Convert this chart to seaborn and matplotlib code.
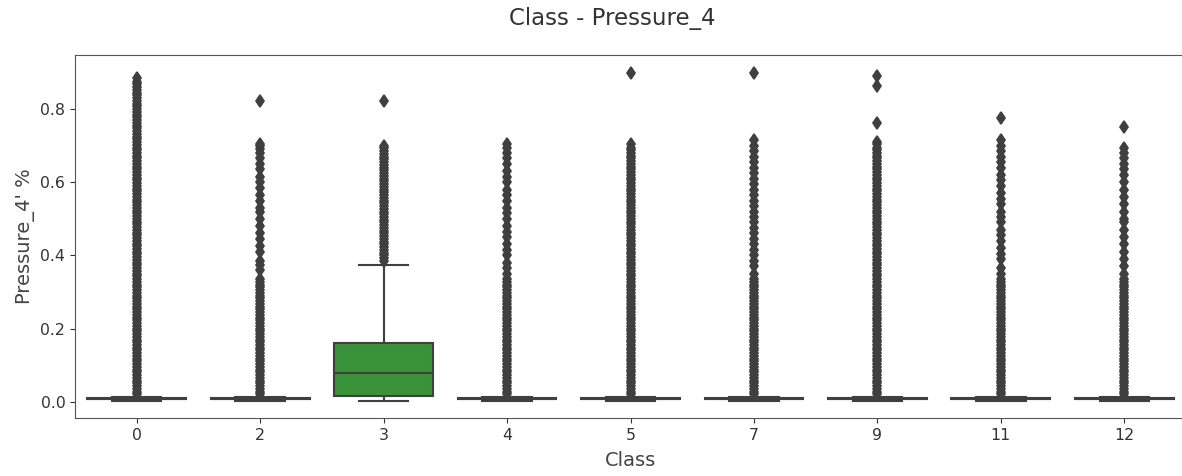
import numpy as np
import pandas as pd
import matplotlib
matplotlib.use("Agg")
import matplotlib.pyplot as plt
import seaborn as sns

classes = ["0", "2", "3", "4", "5", "7", "9", "11", "12"]

# bulk of the distribution (value, count)
flat_values = [0.002, 0.006, 0.0075, 0.009, 0.013]
flat_counts = [40, 160, 200, 160, 40]
class3_values = [0.003, 0.015, 0.079, 0.161, 0.375]
class3_counts = [20, 80, 100, 80, 20]

# outlier columns (dense stretches look solid in the picture)
dense_low = [0.02, 0.0275, 0.035, 0.0425, 0.05, 0.0575, 0.065, 0.0725, 0.08, 0.0875,
             0.095, 0.1025, 0.11, 0.1175, 0.125, 0.1325, 0.14, 0.1475, 0.155, 0.1625,
             0.17, 0.1775, 0.185, 0.1925, 0.2, 0.2075, 0.215, 0.2225, 0.23, 0.2375,
             0.245, 0.2525, 0.26, 0.2675, 0.275, 0.2825, 0.29, 0.2975, 0.305, 0.3125,
             0.32, 0.3275, 0.335]
dense_mid = [0.3425, 0.35, 0.3575, 0.365, 0.3725, 0.38, 0.3875, 0.395, 0.4025, 0.41,
             0.4175, 0.425, 0.4325, 0.44, 0.4475, 0.455, 0.4625, 0.47, 0.4775, 0.485,
             0.4925, 0.5, 0.5075, 0.515, 0.5225, 0.53, 0.5375, 0.545, 0.5525, 0.56,
             0.5675, 0.575, 0.5825, 0.59, 0.5975, 0.605, 0.6125, 0.62, 0.6275, 0.635,
             0.6425, 0.65, 0.6575, 0.665, 0.6725, 0.68, 0.6875, 0.695]
dense_top = [0.7025, 0.71, 0.7175, 0.725, 0.7325, 0.74, 0.7475, 0.755, 0.7625, 0.77,
             0.7775, 0.785, 0.7925, 0.8, 0.8075, 0.815, 0.8225, 0.83, 0.8375, 0.845,
             0.8525, 0.86, 0.8675, 0.875, 0.885]
class3_dense = [0.385, 0.3925, 0.4, 0.4075, 0.415, 0.4225, 0.43, 0.4375, 0.445, 0.4525,
                0.46, 0.4675, 0.475, 0.4825, 0.49, 0.4975, 0.505, 0.5125, 0.52, 0.5275,
                0.535, 0.5425, 0.55, 0.5575, 0.565, 0.5725, 0.58, 0.5875, 0.595, 0.6025,
                0.61, 0.6175, 0.625, 0.6325, 0.64, 0.6475, 0.655, 0.6625, 0.67, 0.6775,
                0.685, 0.6925, 0.7]

out_0 = dense_low + dense_mid + dense_top
out_2 = dense_low + [0.36, 0.375, 0.385, 0.41, 0.425, 0.445, 0.46, 0.48, 0.5, 0.52, 0.53, 0.55,
                     0.565, 0.585, 0.6, 0.615, 0.635, 0.65, 0.665, 0.68, 0.69, 0.7, 0.705, 0.822]
out_3 = class3_dense + [0.822]
out_4 = dense_low + [0.35, 0.365, 0.38, 0.4, 0.415, 0.43, 0.45, 0.465, 0.48, 0.5, 0.515, 0.53,
                     0.55, 0.565, 0.58, 0.6, 0.615, 0.63, 0.65, 0.665, 0.68, 0.695, 0.705]
out_5 = dense_low + dense_mid + [0.705, 0.9]
out_7 = dense_low + [0.35, 0.37, 0.385, 0.4, 0.415, 0.43, 0.445, 0.46, 0.475, 0.49, 0.505, 0.52,
                     0.535, 0.55, 0.565, 0.58, 0.595, 0.61, 0.625, 0.64, 0.655, 0.67, 0.685,
                     0.7, 0.715, 0.9]
out_9 = dense_low + dense_mid + [0.705, 0.71, 0.762, 0.862, 0.89]
out_11 = dense_low + [0.35, 0.365, 0.39, 0.405, 0.42, 0.44, 0.455, 0.47, 0.49, 0.505, 0.52, 0.54,
                      0.555, 0.57, 0.59, 0.605, 0.62, 0.64, 0.655, 0.67, 0.685, 0.7, 0.715, 0.777]
out_12 = dense_low + [0.35, 0.37, 0.39, 0.41, 0.43, 0.45, 0.47, 0.49, 0.5, 0.52, 0.54, 0.56,
                      0.58, 0.6, 0.62, 0.635, 0.65, 0.665, 0.68, 0.695, 0.751]

outliers = {"0": out_0, "2": out_2, "3": out_3, "4": out_4, "5": out_5,
            "7": out_7, "9": out_9, "11": out_11, "12": out_12}

rows = []
for cls in classes:
    if cls == "3":
        vals = np.repeat(class3_values, class3_counts)
    else:
        vals = np.repeat(flat_values, flat_counts)
    for v in list(vals) + outliers[cls]:
        rows.append({"Class": cls, "Pressure_4": v})
df = pd.DataFrame(rows)

colors = ["#1f77b4", "#ff7f0e", "#2ca02c", "#d62728", "#9467bd",
          "#8c564b", "#e377c2", "#7f7f7f", "#bcbd22"]

fig = plt.figure(figsize=(11.82, 4.76), dpi=100)
ax = fig.add_axes([75 / 1182, 1 - 418 / 476, 1111 / 1182, 363 / 476])

sns.boxplot(data=df, x="Class", y="Pressure_4", hue="Class", order=classes,
            hue_order=classes, palette=colors, saturation=0.75, legend=False,
            linecolor="#3f3f3f", linewidth=1.5, fliersize=6,
            flierprops=dict(marker="d", markerfacecolor="#3f3f3f",
                            markeredgecolor="#3f3f3f", markeredgewidth=1.2),
            ax=ax)

ax.set_xlim(-0.5, 8.5)
ax.set_ylim(-0.0446, 0.948)
ax.set_yticks([0.0, 0.2, 0.4, 0.6, 0.8])
ax.tick_params(labelsize=11.3, colors="#333333")
ax.set_xlabel("Class", fontsize=14, color="#444444", labelpad=6)
ax.set_ylabel("Pressure_4' %", fontsize=14, color="#444444")
for s in ax.spines.values():
    s.set_color("#555555")

fig.text(612 / 1182, 1 - 19 / 476, "Class - Pressure_4", fontsize=16.5,
         ha="center", va="center", color="#333333")

fig.savefig("out.png", dpi=100)
